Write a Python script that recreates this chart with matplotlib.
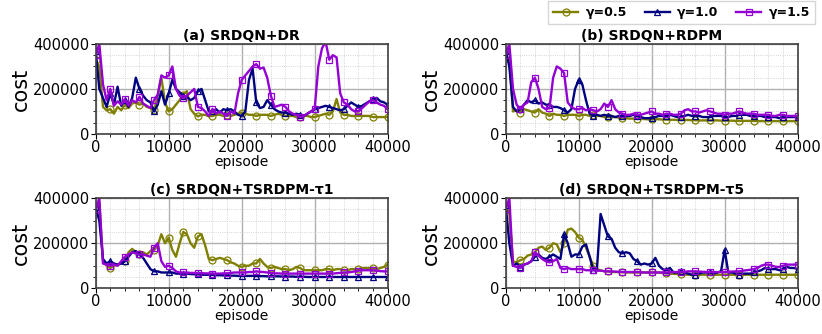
import numpy as np
import matplotlib
matplotlib.use('Agg')
import matplotlib.pyplot as plt
from matplotlib.ticker import MultipleLocator

# episode axis, one sample every 500 episodes
episodes = np.arange(0, 40001, 500)

gamma_labels = ['γ=0.5', 'γ=1.0', 'γ=1.5']
colors = ['#808000', '#000080', '#9400D3']
markers = ['o', '^', 's']

titles = ['(a) SRDQN+DR', '(b) SRDQN+RDPM', '(c) SRDQN+TSRDPM-τ1', '(d) SRDQN+TSRDPM-τ5']

# costs in thousands
dr_g05 = [330, 300, 120, 105, 110, 90, 120, 105, 130, 115,
          135, 140, 130, 135, 120, 115, 105, 170, 250, 140,
          100, 110, 130, 150, 175, 190, 110, 90, 78, 85,
          85, 78, 80, 85, 85, 80, 85, 80, 85, 90,
          95, 90, 85, 85, 80, 85, 85, 85, 80, 85,
          90, 85, 80, 80, 80, 75, 75, 80, 80, 75,
          75, 80, 85, 90, 85, 100, 155, 95, 85, 85,
          80, 80, 80, 80, 80, 80, 75, 75, 75, 75,
          75]
dr_g10 = [370, 200, 160, 120, 180, 130, 210, 125, 150, 120,
          160, 250, 200, 170, 150, 140, 100, 130, 190, 130,
          180, 240, 200, 185, 170, 165, 150, 160, 190, 200,
          150, 100, 100, 110, 95, 110, 105, 110, 100, 85,
          80, 100, 240, 290, 140, 115, 120, 150, 130, 110,
          100, 95, 95, 90, 85, 90, 85, 80, 90, 100,
          110, 115, 120, 125, 120, 115, 110, 105, 110, 125,
          140, 130, 120, 125, 135, 145, 155, 160, 145, 140,
          130]
dr_g15 = [350, 400, 220, 150, 200, 125, 145, 130, 155, 125,
          150, 140, 165, 135, 125, 115, 150, 175, 260, 250,
          260, 300, 200, 170, 160, 170, 185, 200, 120, 115,
          100, 80, 110, 90, 100, 90, 80, 100, 90, 180,
          240, 260, 280, 300, 310, 290, 295, 250, 170, 120,
          125, 130, 120, 100, 90, 85, 75, 80, 90, 100,
          110, 300, 380, 410, 330, 350, 340, 180, 140, 130,
          110, 100, 100, 115, 130, 145, 150, 140, 130, 125,
          110]

rdpm_g05 = [350, 330, 100, 105, 95, 110, 105, 100, 95, 110,
            95, 90, 80, 90, 85, 85, 80, 85, 85, 85,
            80, 85, 85, 80, 85, 80, 80, 75, 75, 75,
            75, 72, 72, 70, 68, 68, 68, 67, 66, 65,
            65, 66, 65, 64, 64, 63, 63, 62, 62, 62,
            62, 61, 61, 60, 60, 60, 60, 60, 60, 59,
            59, 59, 59, 58, 58, 58, 58, 58, 58, 57,
            57, 57, 57, 57, 57, 57, 57, 57, 57, 57,
            57]
rdpm_g10 = [370, 300, 120, 100, 110, 130, 150, 140, 150, 135,
            140, 130, 130, 120, 120, 115, 105, 95, 110, 200,
            240, 220, 150, 90, 80, 85, 80, 85, 80, 80,
            75, 80, 80, 80, 80, 85, 80, 75, 70, 70,
            70, 75, 80, 80, 80, 85, 80, 75, 75, 80,
            85, 80, 80, 80, 75, 75, 75, 80, 80, 80,
            75, 75, 80, 80, 85, 85, 85, 80, 80, 80,
            80, 75, 75, 75, 75, 70, 75, 75, 75, 75,
            75]
rdpm_g15 = [350, 400, 200, 130, 110, 130, 140, 230, 250, 200,
            120, 110, 115, 250, 300, 290, 270, 140, 120, 110,
            110, 115, 105, 110, 105, 100, 110, 135, 120, 150,
            110, 95, 90, 85, 85, 90, 85, 85, 90, 95,
            100, 90, 90, 85, 90, 90, 85, 85, 90, 105,
            110, 100, 100, 95, 100, 105, 100, 95, 90, 90,
            85, 90, 90, 95, 100, 95, 90, 90, 90, 85,
            85, 85, 85, 80, 80, 85, 85, 80, 80, 80,
            80]

tau1_g05 = [360, 380, 120, 100, 90, 100, 105, 110, 120, 160,
            175, 160, 150, 160, 150, 165, 170, 190, 240, 200,
            225, 170, 140, 200, 250, 240, 200, 180, 230, 240,
            190, 130, 125, 130, 135, 130, 125, 115, 110, 100,
            95, 100, 100, 110, 110, 130, 110, 95, 90, 95,
            90, 85, 85, 80, 85, 95, 90, 80, 80, 80,
            80, 80, 80, 85, 85, 80, 85, 85, 80, 80,
            85, 85, 85, 90, 90, 90, 90, 85, 90, 95,
            105]
tau1_g10 = [360, 300, 130, 110, 120, 110, 105, 110, 120, 140,
            160, 165, 150, 135, 110, 85, 75, 75, 70, 70,
            70, 70, 65, 65, 65, 65, 63, 62, 62, 60,
            60, 60, 60, 58, 58, 57, 57, 56, 56, 55,
            55, 55, 55, 55, 54, 54, 54, 53, 53, 53,
            53, 52, 52, 52, 52, 51, 51, 51, 50, 50,
            50, 50, 50, 50, 50, 50, 50, 50, 50, 50,
            50, 50, 50, 50, 50, 50, 50, 50, 50, 50,
            50]
tau1_g15 = [350, 400, 110, 105, 100, 105, 100, 120, 140, 150,
            160, 155, 150, 150, 145, 140, 180, 200, 120, 95,
            100, 90, 75, 70, 70, 70, 68, 68, 67, 67,
            66, 66, 65, 65, 65, 66, 66, 68, 70, 70,
            70, 70, 72, 72, 75, 73, 72, 70, 68, 66,
            66, 65, 65, 65, 65, 65, 65, 65, 65, 65,
            65, 65, 65, 65, 65, 65, 67, 68, 70, 70,
            72, 75, 78, 80, 80, 80, 80, 78, 76, 75,
            75]

tau5_g05 = [360, 330, 120, 115, 125, 130, 145, 150, 160, 180,
            185, 170, 180, 200, 195, 160, 200, 260, 265, 250,
            225, 215, 180, 140, 100, 85, 80, 75, 75, 72,
            72, 72, 71, 71, 70, 70, 70, 70, 70, 70,
            70, 70, 70, 68, 67, 65, 64, 63, 62, 61,
            60, 60, 60, 60, 60, 60, 60, 60, 60, 60,
            60, 60, 60, 60, 60, 60, 60, 60, 60, 60,
            60, 60, 60, 60, 60, 60, 60, 60, 60, 60,
            60]
tau5_g10 = [370, 200, 100, 110, 95, 105, 110, 120, 140, 150,
            135, 130, 140, 150, 140, 130, 240, 200, 140, 150,
            150, 185, 195, 140, 80, 85, 330, 280, 230, 220,
            180, 160, 155, 160, 155, 130, 120, 105, 110, 105,
            110, 135, 100, 85, 80, 90, 70, 70, 75, 70,
            65, 60, 60, 65, 70, 70, 70, 65, 70, 75,
            170, 70, 70, 65, 60, 65, 65, 65, 70, 75,
            80, 90, 85, 85, 85, 80, 85, 95, 90, 90,
            85]
tau5_g15 = [350, 400, 100, 95, 90, 105, 110, 120, 160, 145,
            130, 120, 115, 120, 130, 90, 85, 90, 85, 85,
            85, 85, 80, 80, 80, 78, 78, 76, 75, 75,
            74, 73, 72, 72, 72, 72, 72, 71, 70, 70,
            70, 70, 70, 70, 70, 71, 72, 72, 72, 73,
            75, 75, 75, 74, 73, 72, 72, 72, 72, 72,
            72, 73, 74, 75, 75, 78, 80, 82, 85, 90,
            100, 105, 105, 100, 95, 95, 100, 105, 105, 105,
            105]

panels = [
    [dr_g05, dr_g10, dr_g15],
    [rdpm_g05, rdpm_g10, rdpm_g15],
    [tau1_g05, tau1_g10, tau1_g15],
    [tau5_g05, tau5_g10, tau5_g15],
]

fig = plt.figure(figsize=(8.22, 3.34), dpi=100)

# axes boxes in figure fractions
lefts = [0.1164, 0.6152, 0.1164, 0.6152]
bottoms = [0.599, 0.599, 0.137, 0.137]
width, height = 0.3552, 0.2695

handles = []
for i, series in enumerate(panels):
    ax = fig.add_axes([lefts[i], bottoms[i], width, height])
    for j, vals in enumerate(series):
        cost = np.array(vals) * 1000
        line, = ax.plot(episodes, cost, color=colors[j], lw=1.7,
                        marker=markers[j], markevery=4, markersize=5,
                        markerfacecolor='none', markeredgewidth=0.9,
                        label=gamma_labels[j])
        if i == 0:
            handles.append(line)
    ax.set_xlim(0, 40000)
    ax.set_ylim(0, 400000)
    ax.xaxis.set_major_locator(MultipleLocator(10000))
    ax.xaxis.set_minor_locator(MultipleLocator(2000))
    ax.yaxis.set_major_locator(MultipleLocator(200000))
    ax.yaxis.set_minor_locator(MultipleLocator(50000))
    ax.grid(which='major', color='#b0b0b0', lw=1.0)
    ax.grid(which='minor', color='#c8c8c8', lw=0.6, ls=':')
    ax.set_axisbelow(True)
    ax.tick_params(labelsize=10.5, length=3.5, pad=1)
    ax.tick_params(which='minor', length=2)
    for sp in ax.spines.values():
        sp.set_color('#404040')
        sp.set_linewidth(1.2)
    ax.set_title(titles[i], fontsize=10, fontweight='bold', pad=3)
    ax.set_xlabel('episode', fontsize=10, labelpad=0)
    ax.set_ylabel('cost', fontsize=15, labelpad=2)

fig.legend(handles=handles, loc='upper right', ncol=3,
           bbox_to_anchor=(0.9915, 0.997), borderaxespad=0,
           prop={'weight': 'bold', 'size': 9},
           handlelength=2.0, columnspacing=1.4, borderpad=0.4,
           handletextpad=0.6, frameon=True, fancybox=False,
           edgecolor='#cccccc')

fig.savefig('out.png', dpi=100)
